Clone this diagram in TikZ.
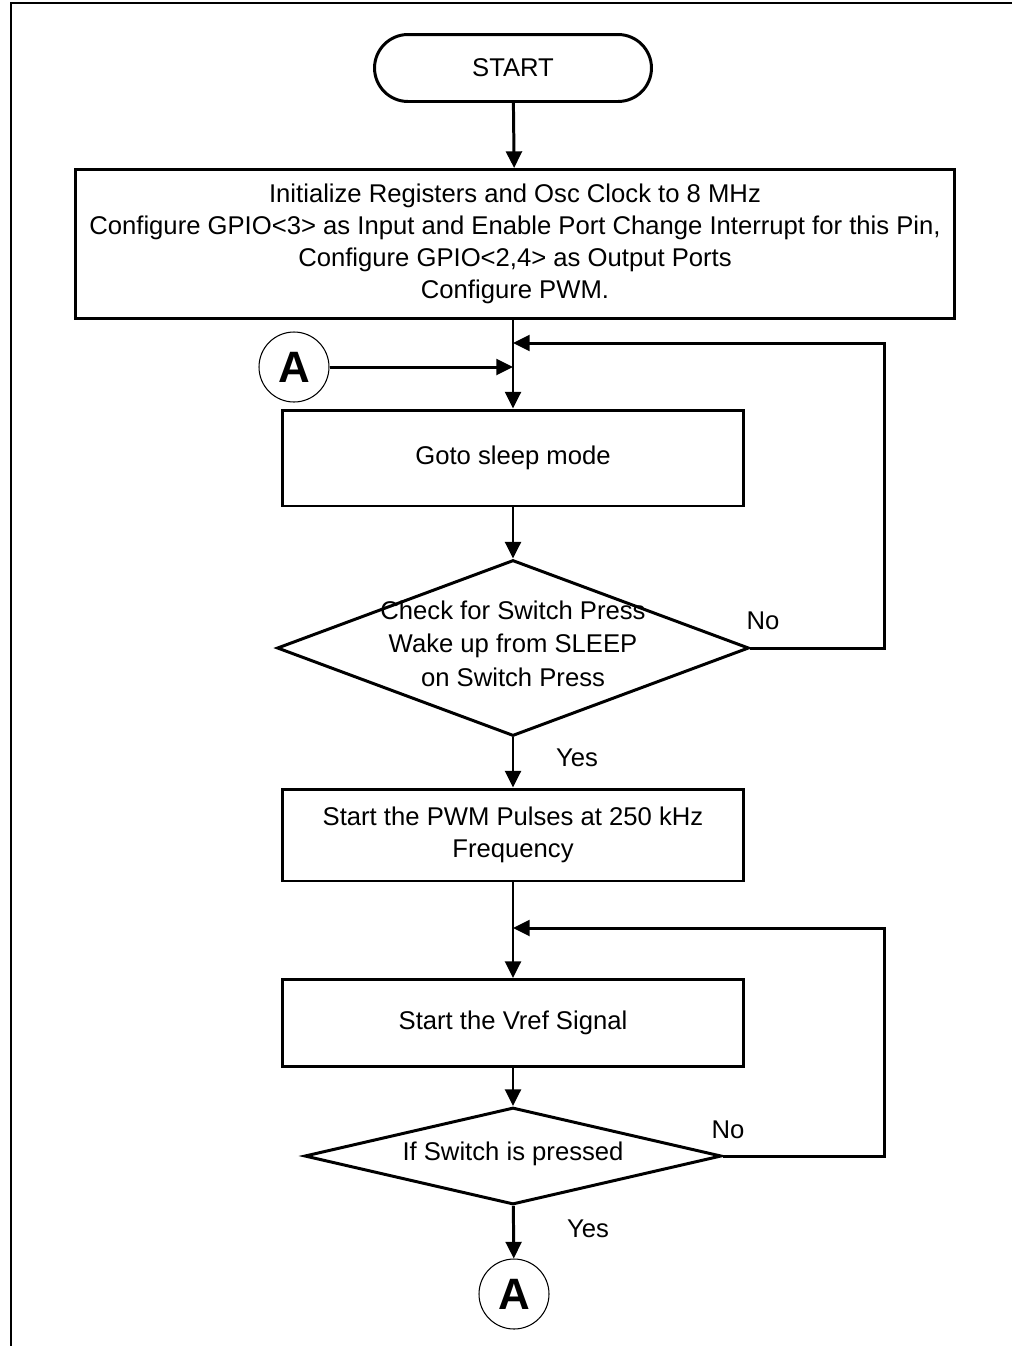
\documentclass[tikz,border=0pt]{standalone}
\usepackage{fontspec}
\setmainfont{Liberation Sans}
\usetikzlibrary{shapes.geometric, shapes.misc, arrows.meta}
\newcommand{\dtext}[1]{\raisebox{-0.35em}{\makebox[0pt]{\smash{\renewcommand{\arraystretch}{1.05}\begin{tabular}{@{}c@{}}#1\end{tabular}}}}}

\begin{document}
\begin{tikzpicture}[x=0.02cm, y=-0.02cm,
        txt/.style={font=\fontsize{14.6}{18.1}\selectfont},
        box/.style={txt, draw, line width=1.7pt, align=center, inner sep=0pt},
        decide/.style={txt, draw, line width=1.7pt, diamond, inner sep=0pt},
        conn/.style={draw, circle, line width=0.6pt, minimum size=1.4cm, inner sep=0pt,
            font=\fontsize{25}{25}\selectfont\bfseries},
        arr/.style={line width=1.7pt, -{Triangle[length=9.5pt, width=9pt]}}]
        \useasboundingbox (0, 0) rectangle (1012, 1346);
        \draw[line width=1.7pt] (11, 1346) -- (11, 3) -- (1012, 3);
        \node[box, rounded rectangle, minimum width=5.54cm, minimum height=1.34cm] (start) at (513, 68) {START};
        \node[box, minimum width=17.6cm, minimum height=2.98cm] (init) at (515, 244) {Initialize Registers and Osc Clock to 8 MHz\\
            Configure GPIO<3> as Input and Enable Port Change Interrupt for this Pin,\\
            Configure GPIO<2,4> as Output Ports\\
            Configure PWM.};
        \node[conn] (a1) at (294, 367) {A};
        \node[box, minimum width=9.24cm, minimum height=1.92cm] (sleep) at (513, 458) {Goto sleep mode};
        \node[decide, minimum width=9.44cm, minimum height=3.52cm] (check) at (513, 648) {\dtext{Check for Switch Press\\ Wake up from SLEEP\\ on Switch Press}};
        \node[box, minimum width=9.24cm, minimum height=1.84cm] (pwm) at (513, 835) {Start the PWM Pulses at 250 kHz\\ Frequency};
        \node[box, minimum width=9.24cm, minimum height=1.74cm] (vref) at (513, 1023) {Start the Vref Signal};
        \node[decide, minimum width=8.34cm, minimum height=1.94cm] (press) at (513, 1156) {\dtext{If Switch is pressed}};
        \node[conn] (a2) at (514, 1294) {A};
        \node[txt] (no1) at (763, 621) {No};
        \node[txt] (yes1) at (577, 758) {Yes};
        \node[txt] (no2) at (728, 1130) {No};
        \node[txt] (yes2) at (588, 1229) {Yes};
        \coordinate (j1) at (513, 367);
        \coordinate (j2) at (513, 343);
        \coordinate (j3) at (513, 928);
        \draw[arr] (start) -- (init);
        \draw[arr] (init.south -| sleep.north) -- (sleep);
        \draw[arr] (a1) -- (j1);
        \draw[arr] (check.east) -- (884, 648) |- (j2);
        \draw[arr] (sleep) -- (check);
        \draw[arr] (check) -- (pwm);
        \draw[arr] (pwm) -- (vref);
        \draw[arr] (press.east) -- (884, 1156) |- (j3);
        \draw[arr] (vref) -- (press);
        \draw[arr] (press) -- (a2);
    \end{tikzpicture}
\end{document}
